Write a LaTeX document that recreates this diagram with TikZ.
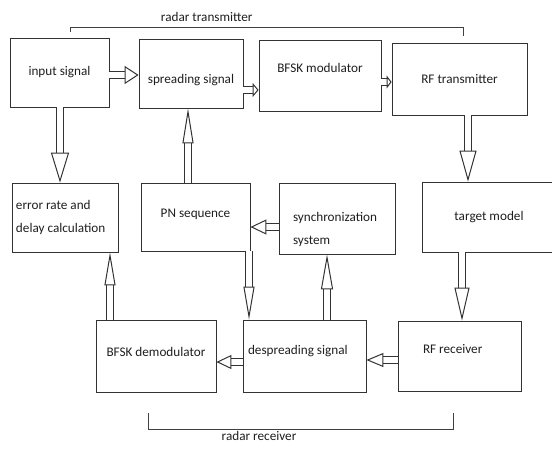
\documentclass[tikz,border=0pt]{standalone}
\usepackage{fontspec}
\setmainfont{Carlito}
\usetikzlibrary{arrows.meta}

\begin{document}
\begin{tikzpicture}[
    x=1pt, y=-1pt,
    block/.style = {rectangle, draw=black!80, line width=0.8pt, inner sep=0pt,
text centered, text=black!88},
    flow/.style 2 args = {draw=black!80, line width=1pt, double, double distance=6pt,
-{Triangle[open, length=#1, width=#2]}},
    bracket/.style = {draw=black!75, line width=1pt},
    every node/.style={font=\fontsize{13.2}{23}\selectfont, text=black!88}
]
  \useasboundingbox (0,0) rectangle (552,448);

  \node (input) [block, minimum width=99, minimum height=69] at (59.5,72.5) {input signal};
  \node (spread) [block, minimum width=104, minimum height=69, text height=21.5] at (191,73.5) {spreading signal};
  \node (bfskmod) [block, minimum width=122, minimum height=71, text depth=15.4] at (320,75.5) {BFSK modulator};
  \node (rftx) [block, minimum width=135, minimum height=72] at (459.5,79) {RF transmitter};
  \node (error) [block, minimum width=106, minimum height=69, text width=98, align=flush left] at (65,217.5) {error rate and\\delay calculation};
  \node (pn) [block, minimum width=109, minimum height=68, text depth=8.4] at (195.5,217) {PN sequence};
  \node (sync) [block, minimum width=116, minimum height=71, text width=88, align=flush left, text height=30.5] at (337,218.5) {synchronization\\system};
  \node (target) [block, minimum width=134, minimum height=70] at (489,217) {target model};
  \node (demod) [block, minimum width=120, minimum height=72, text depth=8.4] at (156,356) {BFSK demodulator};
  \node (despread) [block, minimum width=123, minimum height=72, text width=113, align=flush left, text depth=12.4] at (304.5,356) {despreading signal};
  \node (rfrx) [block, minimum width=123, minimum height=70, text width=73, align=flush left, text depth=14.4] at (459.5,356) {RF receiver};

  % forward path
  \draw[flow={14pt}{18pt}] ([yshift=-2.5]input.east) -- ([yshift=-2.5]input.east -| spread.west);
  \draw[flow={6pt}{14pt}] ([yshift=-16.5]spread.east) -- ([yshift=-16.5]spread.east -| bfskmod.west);
  \draw[flow={5pt}{13pt}] ([yshift=-6.5]bfskmod.east) -- ([yshift=-6.5]bfskmod.east -| rftx.west);
  \draw[flow={31pt}{17pt}] ([xshift=8.5]rftx.south) -- ([xshift=8.5]rftx.south |- target.north);
  \draw[flow={33pt}{15pt}] ([xshift=-27]target.south) -- ([xshift=-27]target.south |- rfrx.north);
  \draw[flow={30pt}{18pt}] ([xshift=0.5]input.south) -- ([xshift=0.5]input.south |- error.north);

  % receiver side
  \draw[flow={35pt}{11pt}] ([xshift=-7.5]pn.north) -- ([xshift=-7.5]pn.north |- spread.south);
  \draw[flow={16pt}{15pt}] ([yshift=-8.5]sync.west) -- ([yshift=-8.5]sync.west -| pn.east);
  \draw[flow={33pt}{11pt}] ([xshift=53.5]pn.south) -- ([xshift=53.5]pn.south |- despread.north);
  \draw[flow={35pt}{12pt}] ([xshift=22.5]despread.north) -- ([xshift=22.5]despread.north |- sync.south);
  \draw[flow={33pt}{11pt}] ([xshift=-46]demod.north) -- ([xshift=-46]demod.north |- error.south);
  \draw[flow={15pt}{14pt}] ([yshift=-6]despread.west) -- ([yshift=-6]despread.west -| demod.east);
  \draw[flow={17pt}{14pt}] ([yshift=-4]rfrx.west) -- ([yshift=-4]rfrx.west -| despread.east);

  % groups
  \coordinate (txl) at (70,32);
  \coordinate (txr) at (463,36);
  \draw[bracket] (txl) |- (txr |- 0,27) node (txlabel) [pos=0.674, above, yshift=2] {radar transmitter} -- (txr);
  \coordinate (rxl) at (148,413);
  \coordinate (rxr) at (453,413);
  \draw[bracket] (rxl) |- (rxr |- 0,429) node (rxlabel) [pos=0.682, below, inner sep=1, yshift=-1] {radar receiver} -- (rxr);

\end{tikzpicture}
\end{document}
